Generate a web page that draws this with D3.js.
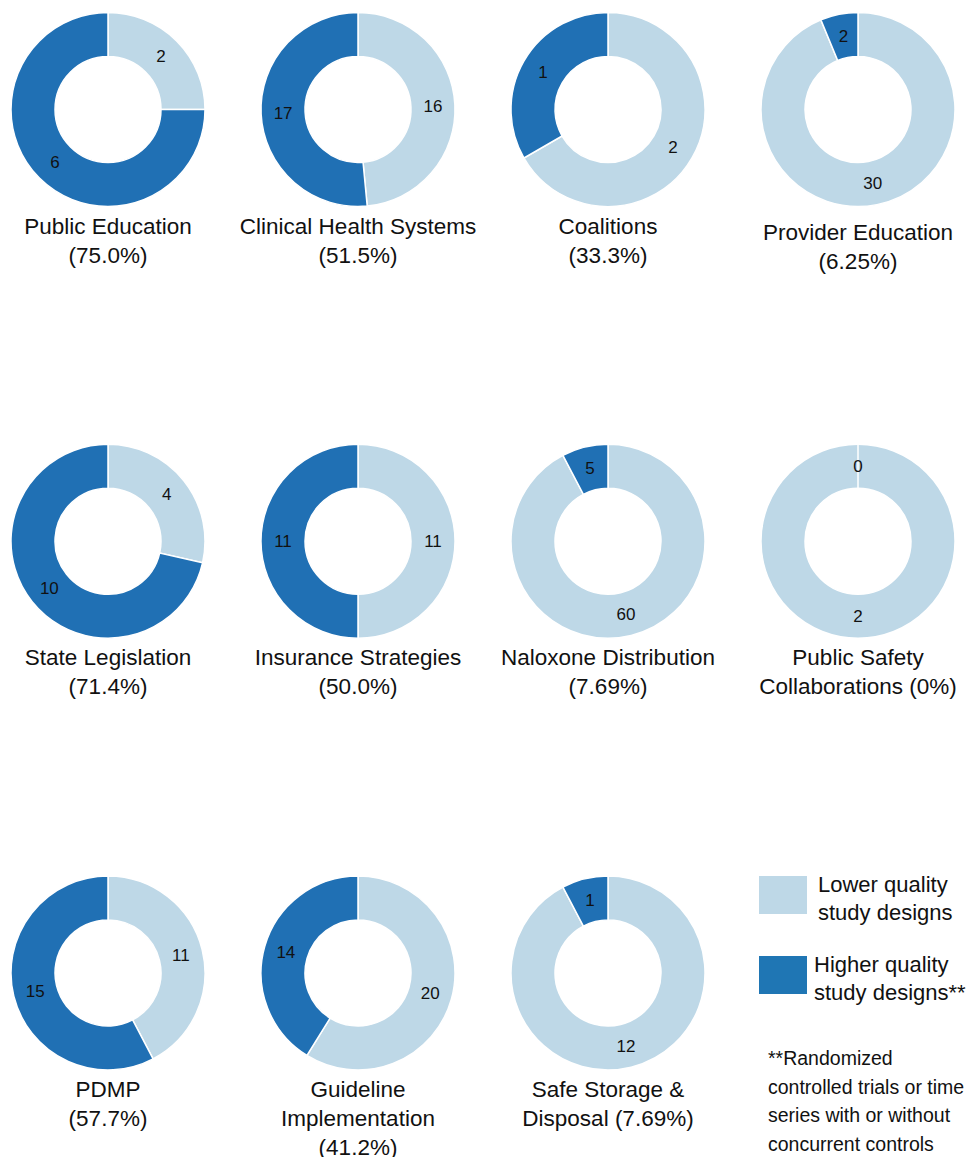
<!DOCTYPE html>
<html>
<head>
<meta charset="utf-8">
<script src="https://cdn.jsdelivr.net/npm/d3@7"></script>
<style>
  body { margin: 0; background: #fff; }
  svg { display: block; font-family: "Liberation Sans", Arial, Helvetica, sans-serif; }
</style>
</head>
<body>
<div id="chart"></div>
<script>
// Strategy categories, left to right, top to bottom
const strategies = [
  'Public Education', 'Clinical Health Systems', 'Coalitions', 'Provider Education',
  'State Legislation', 'Insurance Strategies', 'Naloxone Distribution', 'Public Safety Collaborations',
  'PDMP', 'Guideline Implementation', 'Safe Storage & Disposal'
];

// Study counts per strategy
const lowerQuality  = [2, 16, 2, 30, 4, 11, 60, 2, 11, 20, 12];
const higherQuality = [6, 17, 1, 2, 10, 11, 5, 0, 15, 14, 1];

// Title lines as printed under each donut
const titleLines = [
  ['Public Education', '(75.0%)'],
  ['Clinical Health Systems', '(51.5%)'],
  ['Coalitions', '(33.3%)'],
  ['Provider Education', '(6.25%)'],
  ['State Legislation', '(71.4%)'],
  ['Insurance Strategies', '(50.0%)'],
  ['Naloxone Distribution', '(7.69%)'],
  ['Public Safety', 'Collaborations (0%)'],
  ['PDMP', '(57.7%)'],
  ['Guideline', 'Implementation', '(41.2%)'],
  ['Safe Storage &', 'Disposal (7.69%)']
];

const seriesNames = ['Lower quality', 'Higher quality'];
const legendLines = [['Lower quality', 'study designs'], ['Higher quality', 'study designs**']];
const footnoteLines = ['**Randomized', 'controlled trials or time', 'series with or without', 'concurrent controls'];

const width = 971, height = 1157;
const cols = 4;
const outerR = 97, innerR = 53;

const color = d3.scaleOrdinal()
    .domain(seriesNames)
    .range(['#bed8e7', '#2070b4']);

const legendColor = d3.scaleOrdinal()
    .domain(seriesNames)
    .range(['#bed8e7', '#1f76b4']);

const svg = d3.select('#chart').append('svg')
    .attr('width', width)
    .attr('height', height);

// Grid scales for donut centres
const xScale = d3.scaleLinear().domain([0, cols - 1]).range([108, 858]);
const yScale = d3.scaleLinear().domain([0, 2]).range([109.5, 973]);

const pie = d3.pie()
    .sort(null)
    .value(d => d.value);

const arc = d3.arc()
    .innerRadius(innerR)
    .outerRadius(outerR);

const labelArc = d3.arc()
    .innerRadius((innerR + outerR) / 2)
    .outerRadius((innerR + outerR) / 2);

// Provider Education title sits a touch lower in the original
const titleNudge = { 'Provider Education': 6 };

const data = strategies.map((name, i) => ({
    name: name,
    lines: titleLines[i],
    parts: [
        { key: seriesNames[0], value: lowerQuality[i] },
        { key: seriesNames[1], value: higherQuality[i] }
    ]
}));

const charts = svg.selectAll('g.donut')
    .data(data)
  .enter().append('g')
    .attr('class', 'donut')
    .attr('transform', (d, i) => `translate(${xScale(i % cols)},${yScale(Math.floor(i / cols))})`);

charts.selectAll('path')
    .data(d => pie(d.parts))
  .enter().append('path')
    .attr('d', arc)
    .attr('fill', d => color(d.data.key))
    .attr('stroke', '#fff')
    .attr('stroke-width', 1.5);

charts.selectAll('text.value')
    .data(d => pie(d.parts))
  .enter().append('text')
    .attr('class', 'value')
    .attr('transform', d => `translate(${labelArc.centroid(d)})`)
    .attr('text-anchor', 'middle')
    .attr('dy', '0.35em')
    .style('font-size', '17px')
    .style('fill', '#111')
    .text(d => d.data.value);

// Titles under the donuts
charts.append('text')
    .attr('class', 'title')
    .attr('text-anchor', 'middle')
    .attr('y', d => 124 + (titleNudge[d.name] || 0))
    .style('font-size', '22.5px')
    .style('fill', '#111')
  .selectAll('tspan')
    .data(d => d.lines)
  .enter().append('tspan')
    .attr('x', 0)
    .attr('dy', (d, i) => i === 0 ? 0 : 29)
    .text(d => d);

// Legend
const legend = svg.append('g').attr('class', 'legend');

const legendItems = legend.selectAll('g')
    .data(seriesNames)
  .enter().append('g')
    .attr('transform', (d, i) => `translate(759,${876 + i * 80})`);

legendItems.append('rect')
    .attr('width', 48)
    .attr('height', 38)
    .attr('fill', d => legendColor(d));

legendItems.append('text')
    .attr('y', 16)
    .style('font-size', '22px')
    .style('fill', '#111')
  .selectAll('tspan')
    .data((d, i) => legendLines[i])
  .enter().append('tspan')
    .attr('x', function() { return this.parentNode.__data__ === seriesNames[0] ? 59 : 55; })
    .attr('dy', (d, i) => i === 0 ? 0 : 28)
    .text(d => d);

svg.append('text')
    .attr('class', 'footnote')
    .attr('y', 1065)
    .style('font-size', '19.5px')
    .style('fill', '#111')
  .selectAll('tspan')
    .data(footnoteLines)
  .enter().append('tspan')
    .attr('x', 768)
    .attr('dy', (d, i) => i === 0 ? 0 : 28.5)
    .text(d => d);
</script>
</body>
</html>
